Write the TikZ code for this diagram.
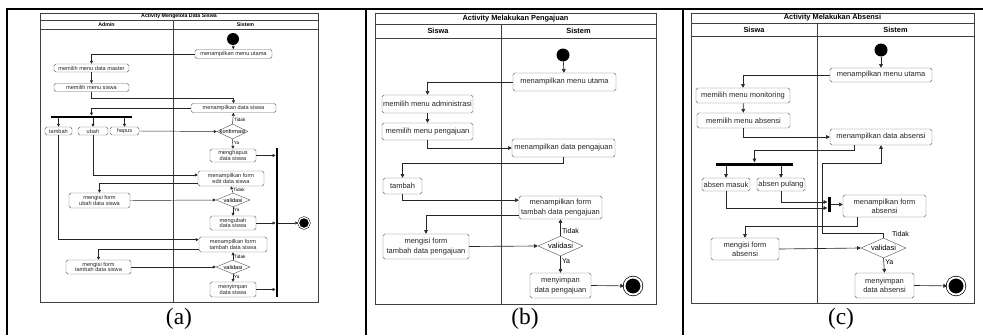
\documentclass[tikz,border=0pt]{standalone}
\usepackage{fontspec}
\setmainfont{Liberation Serif}
\newfontfamily\diafont{Liberation Sans}
\usetikzlibrary{arrows.meta,shapes.geometric}

\begin{document}
\begin{tikzpicture}[
x=0.03cm, y=-0.03cm,
sz/.style 2 args={minimum width=#1*0.03cm,minimum height=#2*0.03cm},
tA/.style={font=\diafont\fontsize{4.8}{5}\selectfont},
tB/.style={font=\diafont\fontsize{6.4}{8.5}\selectfont},
tC/.style={font=\diafont\fontsize{6.4}{7.6}\selectfont},
hA/.style={font=\diafont\bfseries\fontsize{4.5}{5}\selectfont},
hB/.style={font=\diafont\bfseries\fontsize{6.3}{7}\selectfont},
act/.style={draw=black!60,rounded corners=1.5pt,fill=white,inner sep=0pt,align=center,text=black!85},
dec/.style={diamond,draw=black!60,fill=white,inner sep=0pt},
bar/.style={fill=black,inner sep=0pt},
startnode/.style={circle,fill=black,inner sep=0pt},
endnode/.style={circle,fill=black,draw=black,double=white,inner sep=0pt},
flow/.style={-{Triangle[length=3.2pt,width=3.2pt]},line width=0.55pt,draw=black!85},
flowA/.style={-{Triangle[length=2.5pt,width=2.5pt]},line width=0.4pt,draw=black!85},
lbl/.style={font=\diafont\fontsize{6}{6}\selectfont,inner sep=1pt},
lblA/.style={font=\diafont\fontsize{4}{4}\selectfont,inner sep=0.8pt},
lane/.style={draw=black!75,line width=0.5pt},
tableline/.style={line width=2pt},
caption/.style={font=\fontsize{20}{24}\selectfont}
]

\useasboundingbox (0,0) rectangle (983,335);

\draw[tableline] (7,335) -- (7,9) -- (983,9);
\draw[tableline] (366,9) -- (366,335);
\draw[tableline] (683,9) -- (683,335);

\draw[lane] (40,13) rectangle (318,302);
\draw[lane] (40,20) -- (318,20) (40,29) -- (318,29) (173,20) -- (173,302);
\node[hA] (aTitle) at (179,16.5) {Activity Mengelola Data Siswa};
\node[hA] (aLaneU) at (106.5,24.5) {Admin};
\node[hA] (aLaneS) at (245.5,24.5) {Sistem};

\node[startnode,minimum size=12*0.03cm] (aS) at (233,39) {};
\node[act,tA,sz={77}{9}] (a1) at (233.5,54) {menampilkan menu utama};
\node[act,tA,sz={75}{8}] (a2) at (91.5,68) {memilih menu data master};
\node[act,tA,sz={75}{8}] (a3) at (91.5,87.5) {memilih menu siswa};
\node[act,tA,sz={85}{9}] (a4) at (233.5,108) {menampilkan data siswa};
\node[bar,sz={81}{2.5}] (aF) at (91.5,117) {};
\node[act,tA,sz={27}{8}] (a5) at (58.5,131) {tambah};
\node[act,tA,sz={30}{8}] (a6) at (93,131) {ubah};
\node[act,tA,sz={29}{8}] (a7) at (124.5,131) {hapus};
\node[dec,sz={31}{15},label={[tA]center:konfirmasi}] (aD1) at (232.5,131.5) {};
\node[act,tA,sz={46}{13}] (a8) at (233,155.5) {menghapus\\data siswa};
\node[bar,sz={2.5}{149}] (aJ) at (277,222.5) {};
\node[act,tA,sz={66}{15}] (a9) at (231,178.5) {menampilkan form\\edit data siswa};
\node[act,tA,sz={61}{15}] (a10) at (99.5,200.5) {mengisi form\\ubah data siswa};
\node[dec,sz={34}{14},label={[tA]center:validasi}] (aD2) at (233,200) {};
\node[act,tA,sz={46}{14}] (a11) at (233,223) {mengubah\\data siswa};
\node[endnode,minimum size=11*0.03cm,line width=0.4pt,double distance=1pt] (aE) at (304,223) {};
\node[act,tA,sz={68}{15}] (a12) at (233,244.5) {menampilkan form\\tambah data siswa};
\node[act,tA,sz={65}{14}] (a13) at (98.5,267) {mengisi form\\tambah data siswa};
\node[dec,sz={34}{14},label={[tA]center:validasi}] (aD3) at (233,267) {};
\node[act,tA,sz={46}{15}] (a14) at (233,289.5) {menyimpan\\data siswa};

\draw[flowA] (aS) -- (a1);
\draw[flowA] (a1.west) -| (a2.north);
\draw[flowA] (a2) -- (a3);
\draw[flowA] (a3.south) -- ++(0,6.5) -| (a4.north);
\draw[flowA] (a4.west) -| (aF.north);
\draw[flowA] (a5.north |- aF.south) -- (a5.north);
\draw[flowA] (a6.north |- aF.south) -- (a6.north);
\draw[flowA] (a7.north |- aF.south) -- (a7.north);
\draw[flowA] (a7.east) -- (aD1.west);
\draw[flowA] (aD1.north) -- node[lblA,right,pos=0.4] {Tidak} (a4.south);
\draw[flowA] (aD1.south) -- node[lblA,right,pos=0.35] {Ya} (a8.north);
\draw[flowA] (a8.east) -- (a8.east -| aJ.west);
\draw[flowA] (a6.south) |- (a9.174);
\draw[flowA] (a9.188) -| (a10.north);
\draw[flowA] (a10.east) -- (aD2.west);
\draw[flowA] (aD2.north) -- node[lblA,right,pos=0.4] {Tidak} (a9.south);
\draw[flowA] (aD2.south) -- node[lblA,right,pos=0.35] {Ya} (a11.north);
\draw[flowA] (a11.east) -- (a11.east -| aJ.west);
\draw[flowA] (aJ.east |- aE) -- (aE);
\draw[flowA] (a5.south) |- (a12.172);
\draw[flowA] (a12.188) -| (a13.north);
\draw[flowA] (a13.east) -- (aD3.west);
\draw[flowA] (aD3.north) -- node[lblA,right,pos=0.4] {Tidak} (a12.south);
\draw[flowA] (aD3.south) -- node[lblA,right,pos=0.35] {Ya} (a14.north);
\draw[flowA] (a14.east) -- (a14.east -| aJ.west);

\draw[lane] (375,13) rectangle (656,304);
\draw[lane] (375,24) -- (656,24) (375,38) -- (656,38) (501,24) -- (501,304);
\node[hB] (bTitle) at (515.5,18.5) {Activity Melakukan Pengajuan};
\node[hB] (bLaneU) at (438,31) {Siswa};
\node[hB] (bLaneS) at (578.5,31) {Sistem};

\node[startnode,minimum size=13*0.03cm] (bS) at (563,55) {};
\node[act,tB,sz={103}{18}] (b1) at (564.5,82) {menampilkan menu utama};
\node[act,tB,sz={91}{18}] (b2) at (427.5,104) {memilih menu administrasi};
\node[act,tB,sz={91}{17}] (b3) at (427.5,131.5) {memilih menu pengajuan};
\node[act,tB,sz={103}{18}] (b4) at (563.5,148) {menampilkan data pengajuan};
\node[act,tB,sz={39}{16}] (b5) at (402.5,186) {tambah};
\node[act,tB,sz={83}{23}] (b6) at (560.5,207.5) {menampilkan form\\tambah data pengajuan};
\node[act,tB,sz={86}{25}] (b7) at (426,246.5) {mengisi form\\tambah data pengajuan};
\node[dec,sz={45}{20},label={[tB]center:validasi}] (bD) at (560.5,246) {};
\node[act,tB,sz={61}{25}] (b8) at (560.5,285.5) {menyimpan\\data pengajuan};
\node[endnode,minimum size=17*0.03cm,line width=0.6pt,double distance=1.6pt] (bE) at (633,286) {};

\draw[flow] (bS) -- (b1);
\draw[flow] (b1.west) -| (b2.north);
\draw[flow] (b2) -- (b3);
\draw[flow] (b3.south) |- (b4.west);
\draw[flow] (b4.south) -- ++(0,6) -| (b5.north);
\draw[flow] (b5.south) |- (b6.170);
\draw[flow] (b6.190) -| (b7.north);
\draw[flow] (b7.east) -- (bD.west);
\draw[flow] (bD.north) -- node[lbl,right,pos=0.3] {Tidak} (b6.south);
\draw[flow] (bD.south) -- node[lbl,right,pos=0.3] {Ya} (b8.north);
\draw[flow] (b8.east) -- (bE);

\draw[lane] (691,13) rectangle (974,303);
\draw[lane] (691,23) -- (974,23) (691,36) -- (974,36) (817,23) -- (817,303);
\node[hB] (cTitle) at (832.5,18) {Activity Melakukan Absensi};
\node[hB] (cLaneU) at (754,29.5) {Siswa};
\node[hB] (cLaneS) at (895.5,29.5) {Sistem};

\node[startnode,minimum size=13*0.03cm] (cS) at (881,50) {};
\node[act,tC,sz={102}{14}] (c1) at (881,75) {menampilkan menu utama};
\node[act,tC,sz={94}{15}] (c2) at (743,95.5) {memilih menu monitoring};
\node[act,tC,sz={93}{15}] (c3) at (743.5,120.5) {memilih menu absensi};
\node[act,tC,sz={102}{16}] (c4) at (881,137) {menampilkan data absensi};
\node[bar,sz={77}{3}] (cF) at (754.5,164) {};
\node[act,tC,sz={48}{13}] (c5) at (726,184.5) {absen masuk};
\node[act,tC,sz={48}{13}] (c6) at (781,184.5) {absen pulang};
\node[bar,sz={3}{15}] (cJ) at (829,204.5) {};
\node[act,tC,sz={83}{22}] (c7) at (884.5,206) {menampilkan form\\absensi};
\node[act,tC,sz={68}{22}] (c8) at (745,249) {mengisi form\\absensi};
\node[dec,sz={45}{20},label={[tC]center:validasi}] (cD) at (883.5,248) {};
\node[act,tC,sz={59}{25}] (c9) at (884.5,285.5) {menyimpan\\data absensi};
\node[endnode,minimum size=17*0.03cm,line width=0.6pt,double distance=1.6pt] (cE) at (956,286) {};

\draw[flow] (cS) -- (c1);
\draw[flow] (c1.west) -| (c2.north);
\draw[flow] (c2) -- (c3);
\draw[flow] (c3.south) |- (c4.west);
\draw[flow] ([xshift=0.75cm]c4.south west) -- ++(0,5) -| (cF.north);
\draw[flow] (c5.north |- cF.south) -- (c5.north);
\draw[flow] (c6.north |- cF.south) -- (c6.north);
\draw[flow] (c5.south) |- ([yshift=-0.105cm]cJ.west);
\draw[flow] (c6.south) |- ([yshift=0.075cm]cJ.west);
\draw[flow] (cJ.east) -- (cJ.east -| c7.west);
\draw[flow] ([xshift=0.45cm]c7.south west) -- ++(0,9) -| (c8.north);
\draw[flow] (c8.east) -- (cD.west);
\draw[flow] (cD.north) -- ++(0,-4) node[lbl,right=6pt] {Tidak} -| (822,163) -| (c4.south);
\draw[flow] (cD.south) -- node[lbl,right,pos=0.25] {Ya} (c9.north);
\draw[flow] (c9.east) -- (cE);

\node[caption] (capA) at (179,319) {(a)};
\node[caption] (capB) at (525,319) {(b)};
\node[caption] (capC) at (841,319) {(c)};

\end{tikzpicture}
\end{document}
